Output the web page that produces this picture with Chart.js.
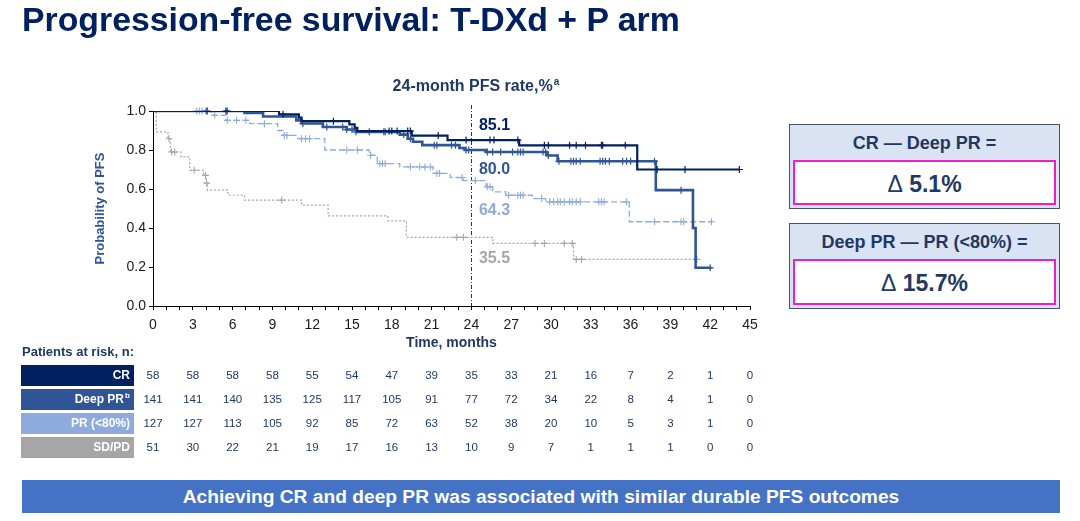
<!DOCTYPE html>
<html>
<head>
<meta charset="utf-8">
<script src="https://cdn.jsdelivr.net/npm/chart.js@4.4.1/dist/chart.umd.min.js"></script>
<style>
  html, body { margin: 0; padding: 0; background: #fff; }
  body { width: 1080px; height: 521px; position: relative; overflow: hidden; font-family: "Liberation Sans", Arial, sans-serif; }
  * { box-sizing: border-box; }
  #kmChart { position: absolute; left: 0; top: 0; }
  h1 { position: absolute; left: 22px; top: 0px; margin: 0; font-size: 33.8px; font-weight: bold; color: #002060; white-space: nowrap; }
  .box { position: absolute; left: 789px; width: 271px; background: #dae3f3; border: 1px solid #44546a; }
  .box .head { position: absolute; left: 0; right: 0; top: 0; height: 36px; line-height: 36px; text-align: center; font-weight: bold; font-size: 18px; color: #1f3864; white-space: nowrap; }
  .box .val { position: absolute; left: 3px; right: 3px; top: 35px; background: #fff; border: 2.5px solid #f01ec8; text-align: center; font-weight: bold; font-size: 23px; color: #1f3864; padding-top: 2px; }
  .box .val span { font-weight: normal; }
  #banner { position: absolute; left: 22px; top: 480px; width: 1038px; height: 33px; background: #4472c4; color: #fff; font-weight: bold; font-size: 19.2px; text-align: center; line-height: 33px; white-space: nowrap; }
</style>
</head>
<body>
<canvas id="kmChart" width="1080" height="521"></canvas>
<h1>Progression-free survival: T-DXd + P arm</h1>
<div class="box" style="top:124px;height:85px;">
  <div class="head">CR &mdash; Deep PR =</div>
  <div class="val" style="height:45px;line-height:40px;"><span>&Delta;</span> 5.1%</div>
</div>
<div class="box" style="top:223px;height:86px;">
  <div class="head" style="height:37px;line-height:37px;">Deep PR &mdash; PR (&lt;80%) =</div>
  <div class="val" style="height:46px;line-height:41px;"><span>&Delta;</span> 15.7%</div>
</div>
<div id="banner">Achieving CR and deep PR was associated with similar durable PFS outcomes</div>

<script>
// Kaplan-Meier steps: [month, probability after the drop]
var crSteps = [[0, 1], [9.5, 0.983], [11.0, 0.966], [11.2, 0.948], [14.8, 0.931], [15.2, 0.914], [15.4, 0.897],
    [19.5, 0.874], [22.2, 0.851], [27.6, 0.824], [36.5, 0.70], [44.2, 0.70]];
var deepSteps = [[0, 1], [6.9, 0.99], [8.3, 0.972], [10.8, 0.952], [11.2, 0.936], [12.8, 0.918], [14.6, 0.905],
    [15.3, 0.893], [18.6, 0.879], [19.2, 0.858], [19.6, 0.842], [20.3, 0.825], [23.1, 0.81], [23.5, 0.80],
    [25.1, 0.79], [29.7, 0.772], [30.5, 0.742], [37.9, 0.594], [40.7, 0.40], [40.9, 0.196], [42.1, 0.196]];
var prSteps = [[0, 1], [4.4, 0.978], [5.5, 0.952], [7.3, 0.935], [9.4, 0.90], [9.8, 0.875], [10.9, 0.858],
    [12.95, 0.80], [16.3, 0.773], [16.9, 0.73], [18.6, 0.713], [21.1, 0.68], [22.4, 0.659], [23.4, 0.643],
    [25.1, 0.611], [25.6, 0.585], [26.6, 0.568], [28.6, 0.551], [29.6, 0.534], [35.9, 0.432], [42.1, 0.432]];
var sdSteps = [[0, 1], [0.25, 0.893], [1.13, 0.858], [1.3, 0.79], [2.1, 0.765], [2.77, 0.696], [3.8, 0.67],
    [4.0, 0.63], [4.1, 0.594], [5.65, 0.568], [6.9, 0.543], [11.2, 0.517], [13.2, 0.462], [17.7, 0.437],
    [19.1, 0.352], [25.6, 0.321], [31.7, 0.239], [41.0, 0.239]];

// censoring times (months)
var crCensor = [5.5, 9.8, 13.6, 17.8, 18.0, 18.4, 19.2, 19.4, 21.5, 23.6, 25.4, 25.7, 27.5, 29.5, 29.8,
    31.4, 31.9, 32.6, 33.8, 33.9, 35.6, 38.0, 40.1, 44.2];
var deepCensor = [4.0, 4.1, 5.6, 11.3, 13.1, 14.3, 14.6, 15.0, 15.3, 16.3, 17.4, 17.5, 18.9, 19.4, 21.2, 21.4,
    22.5, 22.8, 23.6, 23.8, 25.2, 25.6, 26.2, 27.1, 27.5, 27.7, 27.9, 29.4, 29.6, 29.8, 30.6, 31.5, 31.7,
    31.9, 32.2, 33.7, 33.9, 34.1, 34.4, 35.4, 35.7, 36.0, 37.8, 39.8, 42.0];
var prCensor = [3.3, 3.5, 3.7, 4.65, 5.6, 6.3, 7.0, 8.4, 9.9, 10.1, 11.2, 11.5, 11.8, 14.6, 15.4, 16.4, 17.1,
    17.3, 17.5, 19.4, 20.1, 20.5, 20.9, 21.4, 21.6, 23.3, 24.3, 25.2, 25.4, 26.8, 27.5, 27.7, 27.9, 29.3,
    29.9, 30.2, 30.5, 30.7, 31.0, 31.4, 31.6, 31.9, 32.2, 33.6, 33.8, 34.0, 35.7, 37.8, 39.8, 40.0, 42.1];
var sdCensor = [1.2, 1.4, 1.64, 3.1, 3.95, 4.05, 9.7, 22.9, 23.4, 28.8, 29.5, 31.0, 31.6, 31.9, 32.3, 41.0];

var groups = ['CR', 'Deep PR', 'PR (<80%)', 'SD/PD'];
var pfs24 = ['85.1', '80.0', '64.3', '35.5'];
var riskMonths = [0, 3, 6, 9, 12, 15, 18, 21, 24, 27, 30, 33, 36, 39, 42, 45];
var riskCR = [58, 58, 58, 58, 55, 54, 47, 39, 35, 33, 21, 16, 7, 2, 1, 0];
var riskDeep = [141, 141, 140, 135, 125, 117, 105, 91, 77, 72, 34, 22, 8, 4, 1, 0];
var riskPR = [127, 127, 113, 105, 92, 85, 72, 63, 52, 38, 20, 10, 5, 3, 1, 0];
var riskSD = [51, 30, 22, 21, 19, 17, 16, 13, 10, 9, 7, 1, 1, 1, 0, 0];

var colors = ['#002060', '#2f5597', '#8faadc', '#a6a6a6'];
var FONT = '"Liberation Sans", Arial, sans-serif';

function survAt(steps, t) {
    var s = steps[0][1];
    steps.forEach(function(p) { if (p[0] <= t) s = p[1]; });
    return s;
}

function curve(label, steps, color, width, dash) {
    return {
        label: label,
        data: steps.map(function(p) { return {x: p[0], y: p[1]}; }),
        showLine: true,
        stepped: 'before',
        borderColor: color,
        borderWidth: width,
        borderDash: dash,
        pointRadius: 0,
        fill: false
    };
}

function marks(label, steps, times, color, width) {
    return {
        label: label + ' censored',
        data: times.map(function(t) { return {x: t, y: survAt(steps, t)}; }),
        showLine: false,
        pointStyle: 'cross',
        pointRadius: 3.5,
        pointBorderWidth: width,
        borderColor: color,
        backgroundColor: color,
        clip: false
    };
}

var riskRows = [riskCR, riskDeep, riskPR, riskSD];

var extras = {
    id: 'extras',
    beforeDatasetsDraw: function(chart) {
        var ctx = chart.ctx, area = chart.chartArea, x = chart.scales.x;
        var px = Math.round(x.getPixelForValue(24)) + 0.5;
        ctx.save();
        ctx.strokeStyle = '#1f3864';
        ctx.lineWidth = 1;
        ctx.setLineDash([4, 2, 1, 2]);
        ctx.beginPath();
        ctx.moveTo(px, area.top - 6);
        ctx.lineTo(px, area.bottom);
        ctx.stroke();
        ctx.restore();
    },
    afterDraw: function(chart) {
        var ctx = chart.ctx, x = chart.scales.x, y = chart.scales.y;
        var x24 = x.getPixelForValue(24);
        ctx.save();

        // header over the 24-month line
        ctx.fillStyle = '#1f3864';
        ctx.textBaseline = 'middle';
        ctx.font = 'bold 16px ' + FONT;
        var head = '24-month PFS rate,%';
        var w = ctx.measureText(head).width;
        ctx.font = 'bold 10px ' + FONT;
        var wa = ctx.measureText('a').width;
        var hx = x24 + 4 - (w + wa) / 2;
        ctx.font = 'bold 16px ' + FONT;
        ctx.textAlign = 'left';
        ctx.fillText(head, hx, 87);
        ctx.font = 'bold 10px ' + FONT;
        ctx.fillText('a', hx + w + 1, 82);

        // 24-month rates
        var labelAt = [0.925, 0.70, 0.49, 0.245];
        ctx.font = 'bold 16px ' + FONT;
        pfs24.forEach(function(v, i) {
            ctx.fillStyle = colors[i];
            ctx.fillText(v, x24 + 7.5, y.getPixelForValue(labelAt[i]));
        });

        // patients at risk
        ctx.fillStyle = '#1f3864';
        ctx.font = 'bold 13px ' + FONT;
        ctx.fillText('Patients at risk, n:', 22, 352);
        var rowY = [375.5, 399.5, 423.5, 447.5];
        groups.forEach(function(g, i) {
            ctx.fillStyle = colors[i];
            ctx.fillRect(21, rowY[i] - 10.5, 113, 21);
            ctx.fillStyle = '#fff';
            ctx.textAlign = 'right';
            if (i === 1) {
                ctx.font = 'bold 12px ' + FONT;
                ctx.fillText(g, 124, rowY[i]);
                ctx.font = 'bold 8px ' + FONT;
                ctx.textAlign = 'left';
                ctx.fillText('b', 125, rowY[i] - 4);
            } else {
                ctx.font = 'bold 12px ' + FONT;
                ctx.fillText(g, 130, rowY[i]);
            }
            ctx.fillStyle = '#1f3864';
            ctx.font = '11.5px ' + FONT;
            ctx.textAlign = 'center';
            riskRows[i].forEach(function(n, j) {
                ctx.fillText(String(n), x.getPixelForValue(riskMonths[j]), rowY[i] + 0.5);
            });
        });
        ctx.restore();
    }
};

var ctxKm = document.getElementById('kmChart').getContext('2d');
var kmChart = new Chart(ctxKm, {
    type: 'scatter',
    data: {
        datasets: [
            curve(groups[0], crSteps, colors[0], 2.2, []),
            marks(groups[0], crSteps, crCensor, colors[0], 1.2),
            curve(groups[1], deepSteps, colors[1], 2.6, []),
            marks(groups[1], deepSteps, deepCensor, colors[1], 1.2),
            curve(groups[2], prSteps, colors[2], 1.3, [6, 3]),
            marks(groups[2], prSteps, prCensor, colors[2], 1.1),
            curve(groups[3], sdSteps, colors[3], 1.2, [2, 2]),
            marks(groups[3], sdSteps, sdCensor, colors[3], 1.1)
        ]
    },
    options: {
        responsive: false,
        animation: false,
        layout: {
            padding: {left: 93, right: 330, top: 111, bottom: 169}
        },
        scales: {
            x: {
                type: 'linear',
                min: 0,
                max: 45,
                ticks: {
                    stepSize: 1,
                    autoSkip: false,
                    maxRotation: 0,
                    padding: 7,
                    color: '#1a1a1a',
                    font: {family: FONT, size: 14},
                    callback: function(v) { return v % 3 === 0 ? v : ''; }
                },
                grid: {drawOnChartArea: false, drawTicks: true, tickLength: 4, color: '#000'},
                border: {color: '#000', width: 1},
                title: {
                    display: true,
                    text: 'Time, months',
                    color: '#1f3864',
                    font: {family: FONT, size: 14, weight: 'bold'},
                    padding: 0
                },
                afterFit: function(s) { s.height = 46; }
            },
            y: {
                min: 0,
                max: 1,
                ticks: {
                    stepSize: 0.2,
                    padding: 3,
                    color: '#1a1a1a',
                    font: {family: FONT, size: 14},
                    callback: function(v) { return v.toFixed(1); }
                },
                grid: {drawOnChartArea: false, drawTicks: true, tickLength: 4, color: '#000'},
                border: {color: '#000', width: 1},
                title: {
                    display: true,
                    text: 'Probability of PFS',
                    color: '#2f5597',
                    font: {family: FONT, size: 13, weight: 'bold'},
                    padding: 0
                },
                afterFit: function(s) { s.width = 60; }
            }
        },
        plugins: {
            legend: {display: false},
            tooltip: {enabled: false}
        }
    },
    plugins: [extras]
});
</script>
</body>
</html>
